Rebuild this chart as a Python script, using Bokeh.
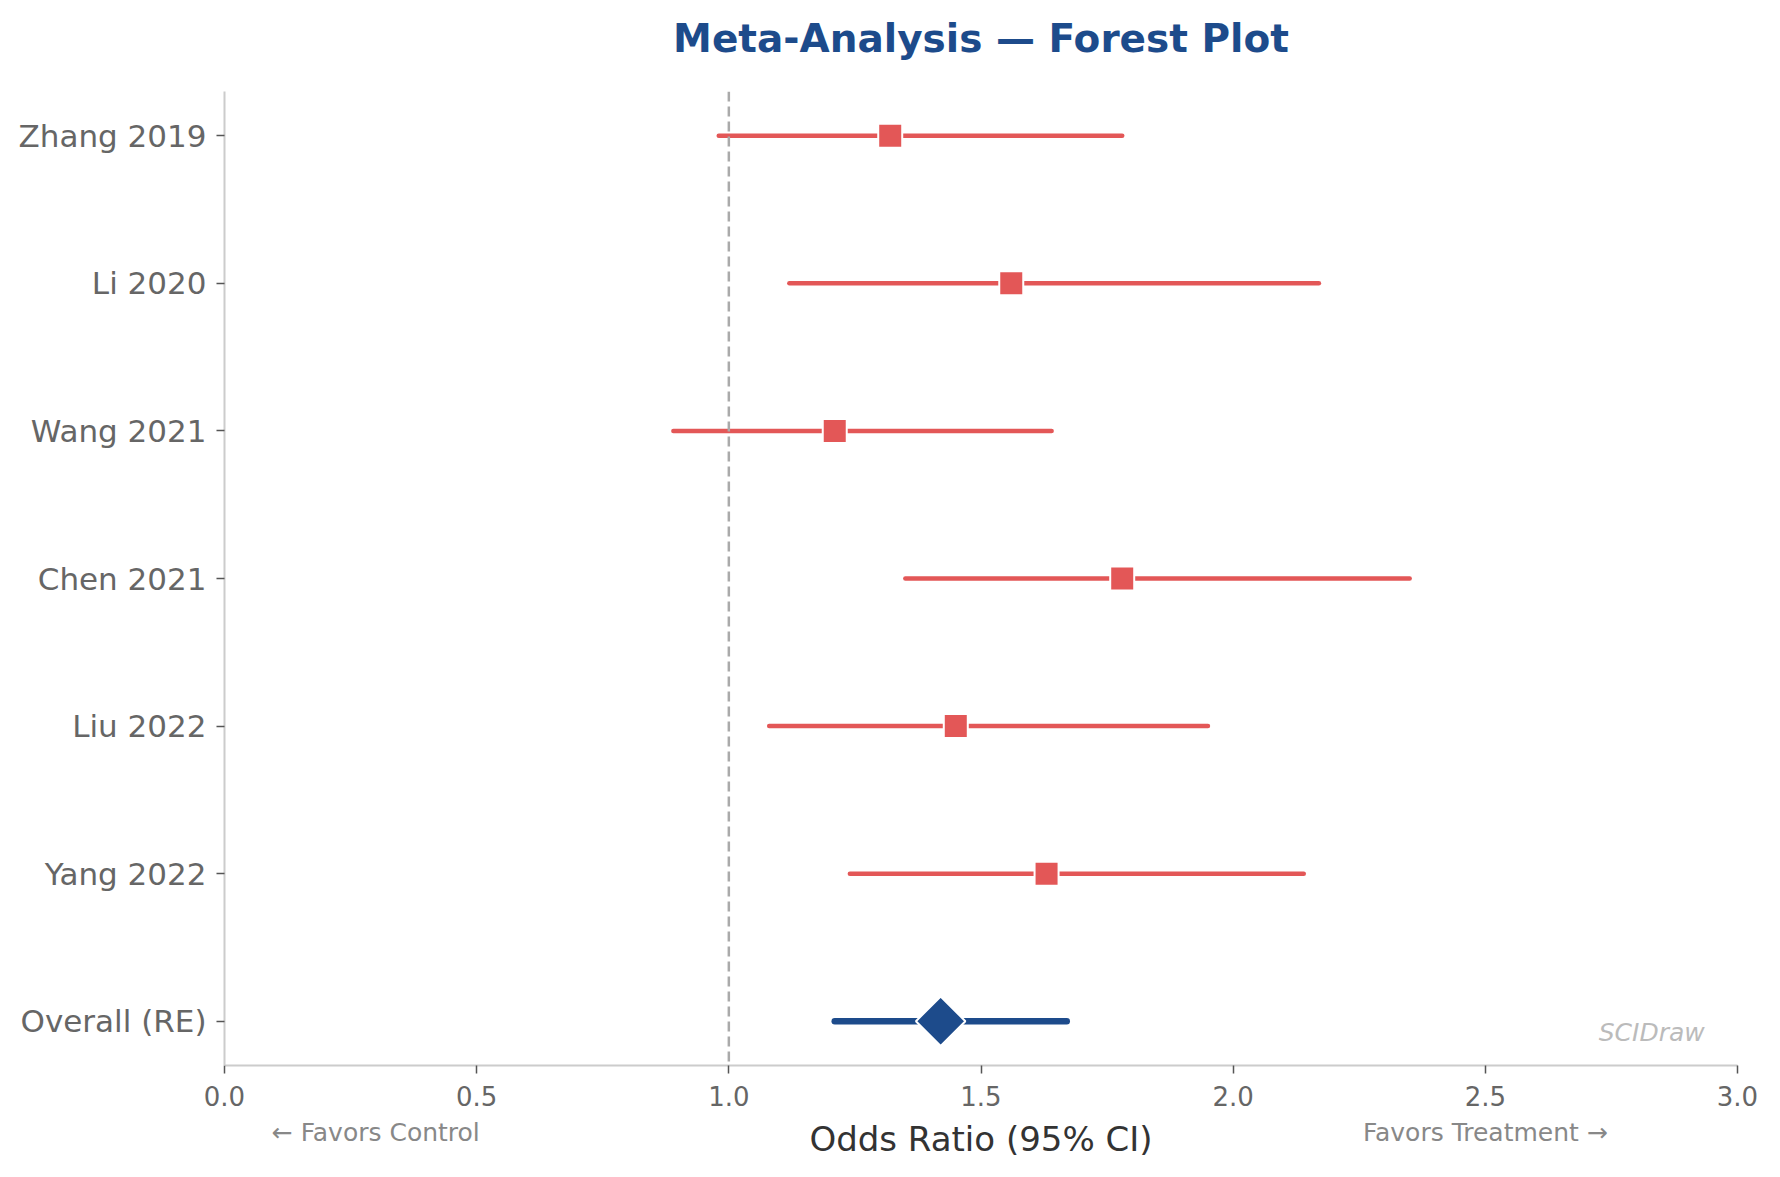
import numpy as np
from bokeh.plotting import figure
from bokeh.models import (Range1d, FixedTicker, Label, Span, ColumnDataSource,
                          LinearAxis)
from bokeh.embed import file_html
from bokeh.resources import INLINE

# Study-level odds ratios with 95% confidence intervals
studies = ["Zhang 2019", "Li 2020", "Wang 2021", "Chen 2021", "Liu 2022", "Yang 2022"]
odds_ratio = [1.32, 1.56, 1.21, 1.78, 1.45, 1.63]
ci_low = [0.98, 1.12, 0.89, 1.35, 1.08, 1.24]
ci_high = [1.78, 2.17, 1.64, 2.35, 1.95, 2.14]

# Pooled random-effects estimate
pooled_label = "Overall (RE)"
pooled_or = 1.42
pooled_low = 1.21
pooled_high = 1.67

x_ticks = [0.0, 0.5, 1.0, 1.5, 2.0, 2.5, 3.0]

# Direction hints shown under the x axis
direction_pos = [0.30, 2.50]
direction_text = ["\u2190 Favors Control", "Favors Treatment \u2192"]

chart_title = "Meta-Analysis \u2014 Forest Plot"

FONT = "DejaVu Sans"
RED = "#E35757"
BLUE = "#1D4B8B"

n = len(studies)
study_y = [float(n - i) for i in range(n)]  # top-to-bottom ordering
pooled_y = 0.0

p = figure(
    width=1780, height=1177,
    output_backend="svg", toolbar_location=None,
    x_range=Range1d(0, 3), y_range=Range1d(-0.3, n + 0.3),
    min_border_left=224, min_border_right=43,
    min_border_top=91, min_border_bottom=112,
    background_fill_color="white", border_fill_color="white",
)
p.outline_line_color = None
p.grid.visible = False
p.title.visible = False

# Primary axes (grab them before any extra axes are added)
xa = p.below[0]
ya = p.left[0]

# X axis
xa.ticker = FixedTicker(ticks=x_ticks)
xa.major_label_overrides = {t: f"{t:.1f}" for t in x_ticks}
xa.major_label_text_font = FONT
xa.major_label_text_font_size = "26px"
xa.major_label_text_color = "#666666"
xa.major_label_standoff = 12
xa.axis_line_color = "#cccccc"
xa.axis_line_width = 2
xa.major_tick_line_color = "#555555"
xa.major_tick_line_width = 1.5
xa.major_tick_out = 8
xa.major_tick_in = 0
xa.minor_tick_line_color = None

# Y axis with study names
all_y = study_y + [pooled_y]
all_names = studies + [pooled_label]
ya.ticker = FixedTicker(ticks=all_y)
ya.major_label_overrides = {y: name for y, name in zip(all_y, all_names)}
ya.major_label_text_font = FONT
ya.major_label_text_font_size = "31px"
ya.major_label_text_color = "#666666"
ya.major_label_standoff = 10
ya.axis_line_color = "#cccccc"
ya.axis_line_width = 2
ya.major_tick_line_color = "#555555"
ya.major_tick_line_width = 1.5
ya.major_tick_out = 8
ya.major_tick_in = 0
ya.minor_tick_line_color = None

# Heading carried by a bare axis above the frame
ta = LinearAxis(ticker=FixedTicker(ticks=[]))
ta.axis_line_color = None
ta.major_tick_line_color = None
ta.minor_tick_line_color = None
ta.major_label_text_font_size = "0px"
ta.axis_label = chart_title
ta.axis_label_text_font = FONT
ta.axis_label_text_font_size = "39px"
ta.axis_label_text_font_style = "bold"
ta.axis_label_text_color = BLUE
ta.axis_label_standoff = 31
p.add_layout(ta, "above")

# Secondary bottom axis carrying the direction hints and the axis title
da = LinearAxis(ticker=FixedTicker(ticks=direction_pos))
da.major_label_overrides = {pos: txt for pos, txt in zip(direction_pos, direction_text)}
da.major_label_text_font = FONT
da.major_label_text_font_size = "25px"
da.major_label_text_color = "#888888"
da.major_label_standoff = 3
da.axis_line_color = None
da.major_tick_line_color = None
da.minor_tick_line_color = None
da.axis_label = "Odds Ratio (95% CI)"
da.axis_label_text_font = FONT
da.axis_label_text_font_size = "34px"
da.axis_label_text_font_style = "normal"
da.axis_label_text_color = "#333333"
da.axis_label_standoff = -31
p.add_layout(da, "below")

# Line of no effect
p.add_layout(Span(location=1.0, dimension="height", line_color="#aaaaaa",
                  line_width=2.5, line_dash="10 5"))

# Study confidence intervals and point estimates
src = ColumnDataSource(dict(y=study_y, est=odds_ratio, lo=ci_low, hi=ci_high))
p.segment(x0="lo", x1="hi", y0="y", y1="y", source=src,
          line_color=RED, line_width=4.5, line_cap="round")
p.scatter(x="est", y="y", source=src, marker="square", size=24,
          fill_color=RED, line_color="white", line_width=2)

# Pooled estimate
p.segment(x0=[pooled_low], x1=[pooled_high], y0=[pooled_y], y1=[pooled_y],
          line_color=BLUE, line_width=6.5, line_cap="round")
p.scatter(x=[pooled_or], y=[pooled_y], marker="square", angle=np.pi / 4, size=35,
          fill_color=BLUE, line_color="white", line_width=2)

# Watermark
p.add_layout(Label(x=2.935, y=-0.075, text="SCIDraw",
                   text_align="right", text_baseline="middle",
                   text_font=FONT, text_font_size="25px", text_font_style="italic",
                   text_color="#bbbbbb"))

open("out.html", "w").write(file_html(p, INLINE))
